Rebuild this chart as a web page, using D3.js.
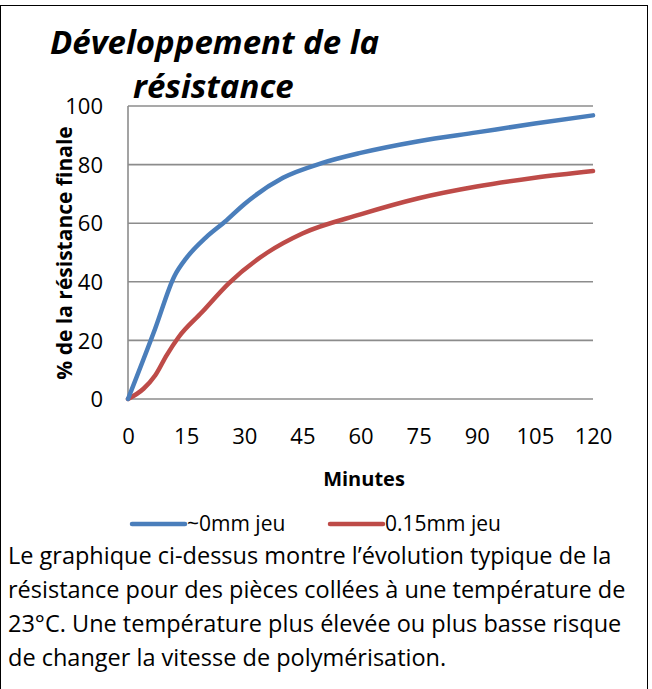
<!DOCTYPE html>
<html>
<head>
<meta charset="utf-8">
<script src="https://cdn.jsdelivr.net/npm/d3@7"></script>
<style>
    body { margin: 0; background: #fff; }
    text { font-family: "Open Sans", "Liberation Sans", sans-serif; fill: #000; }
    .gridLines { stroke: #8c8c8c; stroke-width: 1.6; }
    .yAxisLine { stroke: #8c8c8c; stroke-width: 1.6; }
    .curve { fill: none; stroke-width: 4.5; stroke-linecap: round; stroke-linejoin: round; }
</style>
</head>
<body>
<script>
//wrap everything in a self-executing anonymous function
(function(){

    //minutes for each reading
    var minutesBlue = [0, 7, 12, 15, 20, 25, 30, 40, 50, 60, 75, 90, 105, 120];
    var valuesBlue  = [0, 24, 42, 48, 55, 60.5, 66.5, 75.5, 80.5, 84, 88, 91, 94, 96.8];

    var minutesRed = [0, 4, 7, 10, 13, 19, 26, 36, 45, 60, 75, 90, 105, 120];
    var valuesRed  = [0, 3.5, 8, 15, 21, 29.5, 39.5, 50, 56.5, 63, 68.5, 72.5, 75.5, 77.8];

    var seriesNames = ["~0mm jeu", "0.15mm jeu"];
    var seriesColors = ["#4a7ebb", "#be4b48"];

    var xTicks = [0, 15, 30, 45, 60, 75, 90, 105, 120];
    var yTicks = [0, 20, 40, 60, 80, 100];

    var noteLines = [
        "Le graphique ci-dessus montre l\u2019\u00e9volution typique de la",
        "r\u00e9sistance pour des pi\u00e8ces coll\u00e9es \u00e0 une temp\u00e9rature de",
        "23\u00b0C. Une temp\u00e9rature plus \u00e9lev\u00e9e ou plus basse risque",
        "de changer la vitesse de polym\u00e9risation."
    ];

    window.onload = setChart();

    function setChart(){
        var width = 652,
            height = 689;

        var svg = d3.select("body")
            .append("svg")
            .attr("width", width)
            .attr("height", height);

        //outer frame
        svg.append("rect")
            .attr("x", 0.5)
            .attr("y", 5.5)
            .attr("width", 647)
            .attr("height", 720)
            .attr("fill", "none")
            .attr("stroke", "#000")
            .attr("stroke-width", 1);

        var xScale = d3.scaleLinear()
            .domain([0, 120])
            .range([128, 593]);

        var yScale = d3.scaleLinear()
            .domain([0, 100])
            .range([399, 106]);

        //horizontal gridlines
        svg.selectAll(".gridLines")
            .data(yTicks)
            .enter()
            .append("line")
            .attr("class", "gridLines")
            .attr("x1", xScale(0))
            .attr("x2", xScale(120))
            .attr("y1", function(d){ return yScale(d); })
            .attr("y2", function(d){ return yScale(d); });

        svg.append("line")
            .attr("class", "yAxisLine")
            .attr("x1", xScale(0))
            .attr("x2", xScale(0))
            .attr("y1", yScale(100))
            .attr("y2", yScale(0));

        //y axis labels
        var yAxis = d3.axisLeft(yScale)
            .tickValues(yTicks)
            .tickSize(0)
            .tickPadding(25);

        var yAxisG = svg.append("g")
            .attr("transform", "translate(" + xScale(0) + ",0)")
            .call(yAxis);
        yAxisG.select(".domain").remove();
        yAxisG.selectAll("text")
            .style("font-size", "22px")
            .attr("dy", "0.35em");

        //x axis labels
        var xAxis = d3.axisBottom(xScale)
            .tickValues(xTicks)
            .tickSize(0)
            .tickPadding(29);

        var xAxisG = svg.append("g")
            .attr("transform", "translate(0," + yScale(0) + ")")
            .call(xAxis);
        xAxisG.select(".domain").remove();
        xAxisG.selectAll("text")
            .style("font-size", "22px");

        //the two curves
        var lineGen = d3.line()
            .x(function(d){ return xScale(d[0]); })
            .y(function(d){ return yScale(d[1]); })
            .curve(d3.curveMonotoneX);

        var blueData = d3.zip(minutesBlue, valuesBlue);
        var redData = d3.zip(minutesRed, valuesRed);

        svg.append("path")
            .datum(redData)
            .attr("class", "curve")
            .attr("stroke", seriesColors[1])
            .attr("d", lineGen);

        svg.append("path")
            .datum(blueData)
            .attr("class", "curve")
            .attr("stroke", seriesColors[0])
            .attr("d", lineGen);

        //title
        svg.append("text")
            .attr("x", 50)
            .attr("y", 54)
            .style("font-size", "33px")
            .style("font-weight", "bold")
            .style("font-style", "italic")
            .text("D\u00e9veloppement de la");

        svg.append("text")
            .attr("x", 133)
            .attr("y", 98)
            .style("font-size", "33px")
            .style("font-weight", "bold")
            .style("font-style", "italic")
            .text("r\u00e9sistance");

        //axis titles
        svg.append("text")
            .attr("transform", "translate(72,253) rotate(-90)")
            .attr("text-anchor", "middle")
            .style("font-size", "21px")
            .style("font-weight", "bold")
            .text("% de la r\u00e9sistance finale");

        svg.append("text")
            .attr("x", 364)
            .attr("y", 486)
            .attr("text-anchor", "middle")
            .style("font-size", "20px")
            .style("font-weight", "bold")
            .text("Minutes");

        //legend
        var legendX = [132, 330];
        var legend = svg.selectAll(".legend")
            .data(seriesNames)
            .enter()
            .append("g")
            .attr("class", "legend")
            .attr("transform", function(d, i){ return "translate(" + legendX[i] + ",524)"; });

        legend.append("line")
            .attr("x1", 0)
            .attr("x2", 53)
            .attr("stroke", function(d, i){ return seriesColors[i]; })
            .attr("stroke-width", 4.5)
            .attr("stroke-linecap", "round");

        legend.append("text")
            .attr("x", 55)
            .attr("dy", "0.35em")
            .style("font-size", "21px")
            .text(function(d){ return d; });

        //note under the chart
        svg.selectAll(".note")
            .data(noteLines)
            .enter()
            .append("text")
            .attr("class", "note")
            .attr("x", 8)
            .attr("y", function(d, i){ return 564 + i * 34; })
            .style("font-size", "23.5px")
            .text(function(d){ return d; });
    };
})();
</script>
</body>
</html>
